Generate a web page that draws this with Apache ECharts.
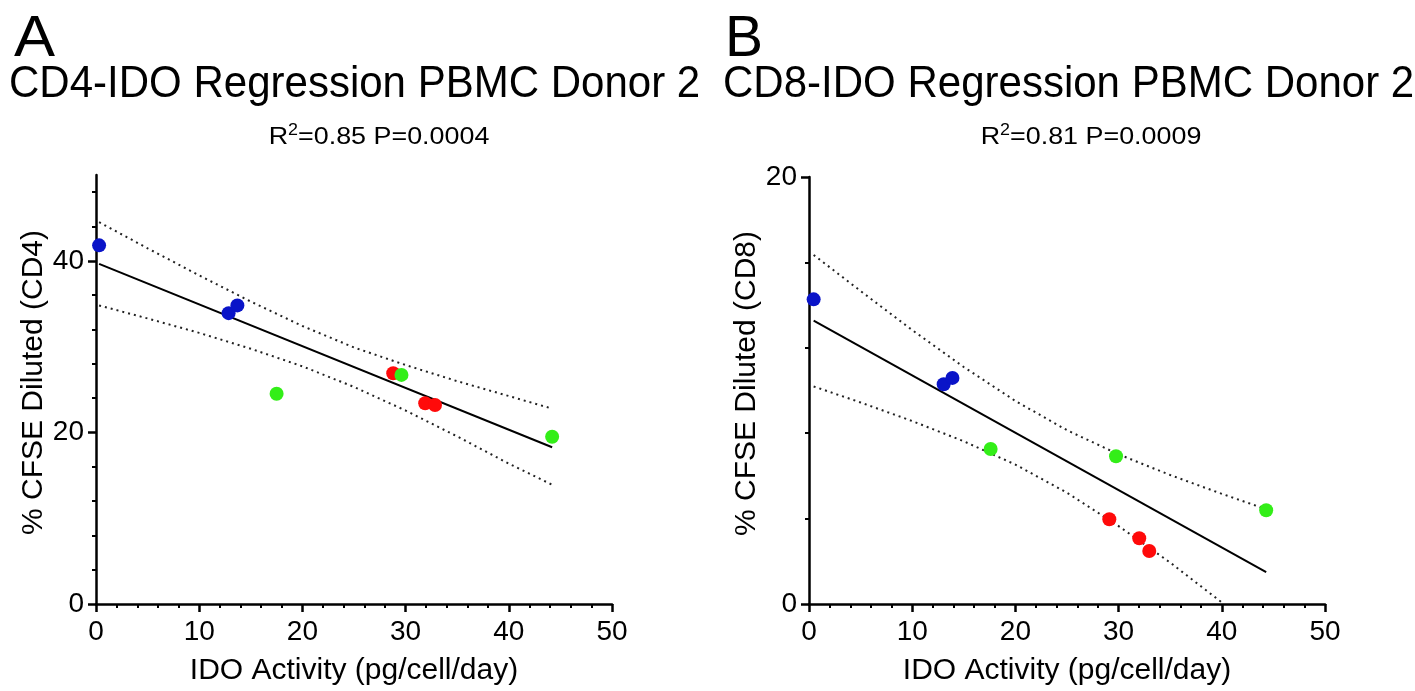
<!DOCTYPE html>
<html>
<head>
<meta charset="utf-8">
<script src="https://cdn.jsdelivr.net/npm/echarts@6/dist/echarts.min.js"></script>
<style>
html,body{margin:0;padding:0;background:#fff;}
#c{width:1415px;height:691px;}
</style>
</head>
<body>
<div id="c"></div>
<script>
// ---- Panel A (CD4) data ----
var cd4Blue  = [[0.3, 41.8], [12.85, 33.9], [13.7, 34.8]];
var cd4Red   = [[28.8, 26.9], [31.9, 23.4], [32.85, 23.2]];
var cd4Green = [[17.5, 24.5], [29.6, 26.7], [44.2, 19.5]];
var cd4FitX  = [0.3, 44.2];
var cd4FitY  = [39.65, 18.27];
var cd4BandX = [0.3, 5, 10, 15, 20, 25, 30, 35, 40, 44.2];
var cd4Upper = [44.5, 41.46, 38.3, 35.25, 32.4, 29.9, 27.85, 25.97, 24.24, 22.77];
var cd4Lower = [34.8, 33.28, 31.6, 29.75, 27.7, 25.3, 22.55, 19.53, 16.36, 13.9];

// ---- Panel B (CD8) data ----
var cd8Blue  = [[0.45, 14.27], [13.05, 10.29], [13.9, 10.59]];
var cd8Red   = [[29.1, 3.97], [32.0, 3.08], [32.97, 2.48]];
var cd8Green = [[17.6, 7.26], [29.75, 6.92], [44.3, 4.39]];
var cd8FitX  = [0.45, 44.3];
var cd8FitY  = [13.27, 1.49];
var cd8UpperX = [0.45, 5, 10, 15, 20, 25, 30, 35, 40, 44.3];
var cd8Upper  = [16.35, 14.66, 12.83, 11.10, 9.51, 8.14, 7.01, 6.04, 5.16, 4.44];
var cd8LowerX = [0.45, 5, 10, 15, 20, 25, 30, 35, 40.2];
var cd8Lower  = [10.19, 9.44, 8.57, 7.62, 6.53, 5.21, 3.65, 1.94, 0.0];

// ---- axis ticks / labels ----
var xMajor = [0, 10, 20, 30, 40, 50];
var cd4YMajor = [0, 20, 40];
var cd4YMinor = [4, 8, 12, 16, 24, 28, 32, 36, 44, 48];
var cd8YMajor = [0, 20];
var cd8YMinor = [4, 8, 12, 16];

var titles = ['CD4-IDO Regression PBMC Donor 2', 'CD8-IDO Regression PBMC Donor 2'];
var stats = [['0.85', '0.0004'], ['0.81', '0.0009']];
var yNames = ['% CFSE Diluted (CD4)', '% CFSE Diluted (CD8)'];
var xName = 'IDO Activity (pg/cell/day)';

function zip(xs, ys) { return xs.map(function (x, i) { return [x, ys[i]]; }); }

var FONT = 'Liberation Sans, Arial, sans-serif';
var BLUE = '#0a14c8', RED = '#ff0a0a', GREEN = '#33ee18';

function xAxis(gi) {
  return {
    type: 'value', gridIndex: gi, min: 0, max: 50, interval: 10,
    name: xName, nameLocation: 'middle', nameGap: 52,
    nameTextStyle: { fontFamily: FONT, fontSize: 30, color: '#000' },
    axisLine: { lineStyle: { color: '#000', width: 2.5 } },
    axisTick: { length: 8, lineStyle: { color: '#000', width: 2.5 } },
    minorTick: { show: true, splitNumber: 5, length: 4, lineStyle: { color: '#000', width: 2 } },
    axisLabel: { margin: 14, fontFamily: FONT, fontSize: 28, color: '#000',
                 customValues: xMajor },
    splitLine: { show: false }, minorSplitLine: { show: false }
  };
}
function yMajor(gi, max, major, name, gap) {
  return {
    type: 'value', gridIndex: gi, min: 0, max: max, position: 'left',
    name: name, nameLocation: 'middle', nameGap: gap,
    nameTextStyle: { fontFamily: FONT, fontSize: 30, color: '#000', padding: [0, 0, 0, 14] },
    axisLine: { onZero: false, lineStyle: { color: '#000', width: 2.5 } },
    axisTick: { length: 8, customValues: major, lineStyle: { color: '#000', width: 2.5 } },
    axisLabel: { margin: 12, fontFamily: FONT, fontSize: 28, color: '#000', customValues: major },
    splitLine: { show: false }
  };
}
function yMinor(gi, max, minor) {
  return {
    type: 'value', gridIndex: gi, min: 0, max: max, position: 'left',
    axisLine: { show: false },
    axisTick: { length: 4, customValues: minor, lineStyle: { color: '#000', width: 2 } },
    axisLabel: { show: false },
    splitLine: { show: false }
  };
}
function line(xi, yi, data, dotted) {
  return {
    type: 'line', xAxisIndex: xi, yAxisIndex: yi, data: data, symbol: 'none',
    silent: true, animation: false, clip: true, z: 2,
    lineStyle: dotted ? { color: '#222', width: 2, type: [2, 4] } : { color: '#000', width: 2 }
  };
}
function pts(xi, yi, data, color) {
  return {
    type: 'scatter', xAxisIndex: xi, yAxisIndex: yi, data: data, symbolSize: 14,
    itemStyle: { color: color, opacity: 1 }, animation: false, z: 3
  };
}
function statText(x, i) {
  return {
    type: 'text', x: x, y: 136, scaleX: 1.12, originX: 0,
    style: {
      text: '{n|R}{s|2}{n|=' + stats[i][0] + ' P=' + stats[i][1] + '}',
      align: 'center', verticalAlign: 'middle',
      rich: {
        n: { fontFamily: FONT, fontSize: 24, fill: '#000', verticalAlign: 'bottom', lineHeight: 26 },
        s: { fontFamily: FONT, fontSize: 16, fill: '#000', verticalAlign: 'top', lineHeight: 26 }
      }
    }
  };
}
function bigText(x, y, txt, size, sx) {
  return { type: 'text', x: x, y: y, scaleX: sx, originX: 0,
           style: { text: txt, fontFamily: FONT, fontSize: size, fill: '#000', verticalAlign: 'middle' } };
}

var chart = echarts.init(document.getElementById('c'), null, { renderer: 'canvas' });
chart.setOption({
  backgroundColor: '#fff',
  animation: false,
  grid: [
    { left: 96, top: 175, width: 516, height: 432 },
    { left: 809, top: 177, width: 516, height: 430 }
  ],
  xAxis: [xAxis(0), xAxis(1)],
  yAxis: [
    yMajor(0, 50, cd4YMajor, yNames[0], 41),
    yMinor(0, 50, cd4YMinor),
    yMajor(1, 20, cd8YMajor, yNames[1], 41),
    yMinor(1, 20, cd8YMinor)
  ],
  graphic: [
    bigText(14, 40, 'A', 57, 1.08),
    bigText(9, 85, titles[0], 44, 0.955),
    statText(379, 0),
    bigText(725, 40, 'B', 57, 1.0),
    bigText(723, 85, titles[1], 44, 0.955),
    statText(1091, 1)
  ],
  series: [
    line(0, 0, zip(cd4FitX, cd4FitY), false),
    line(0, 0, zip(cd4BandX, cd4Upper), true),
    line(0, 0, zip(cd4BandX, cd4Lower), true),
    pts(0, 0, cd4Blue, BLUE),
    pts(0, 0, cd4Red, RED),
    pts(0, 0, cd4Green, GREEN),
    line(1, 2, zip(cd8FitX, cd8FitY), false),
    line(1, 2, zip(cd8UpperX, cd8Upper), true),
    line(1, 2, zip(cd8LowerX, cd8Lower), true),
    pts(1, 2, cd8Blue, BLUE),
    pts(1, 2, cd8Red, RED),
    pts(1, 2, cd8Green, GREEN)
  ]
});
</script>
</body>
</html>
